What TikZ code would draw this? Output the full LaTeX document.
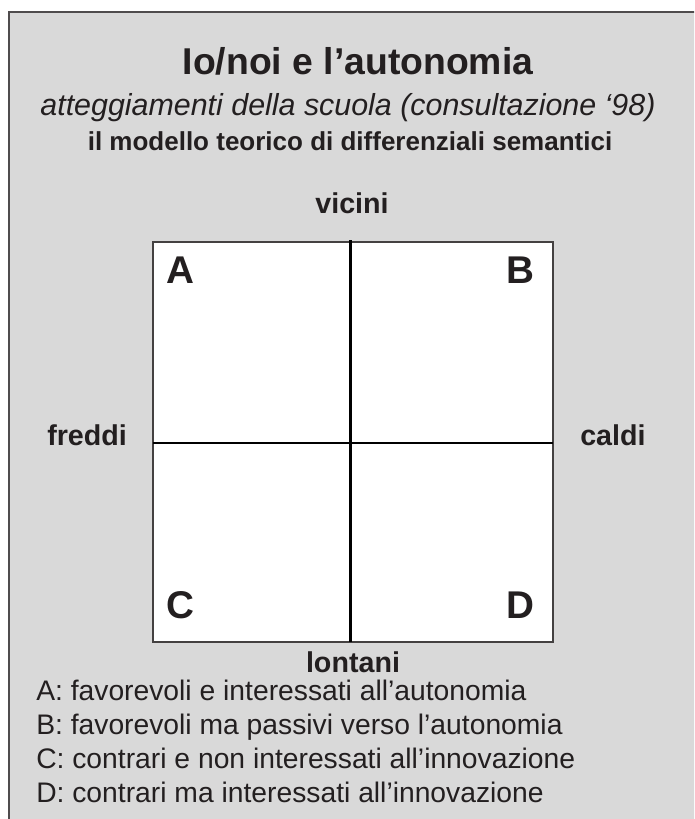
\documentclass[tikz,border=0pt]{standalone}
\usepackage{fontspec}
\setmainfont{Liberation Sans}
\definecolor{panel}{HTML}{D9D9D9}
\definecolor{ink}{HTML}{231F20}

\begin{document}
\begin{tikzpicture}[y=-0.75pt, x=0.75pt,
	every node/.style={text=ink, inner sep=0pt},
	pole/.style={font=\bfseries\fontsize{21.5}{26}\selectfont},
	corner/.style={font=\bfseries\fontsize{29}{34}\selectfont},
	legend/.style={anchor=base west, font=\fontsize{21.2}{25}\selectfont}]
	\useasboundingbox (0,0) rectangle (694,819);
	\clip (0,0) rectangle (694,819);
	\draw[fill=panel, draw=ink!80, line width=1.1pt] (9,12) rectangle (720,840);
	\node[anchor=base, font=\bfseries\fontsize{28}{33}\selectfont] (title) at (358,74) {Io/noi e l’autonomia};
	\node[anchor=base, font=\itshape\fontsize{22.8}{27}\selectfont] (sub) at (348,115) {atteggiamenti della scuola (consultazione ‘98)};
	\node[anchor=base, font=\bfseries\fontsize{19.5}{23}\selectfont] (model) at (350,150) {il modello teorico di differenziali semantici};
	\node[draw=ink!85, fill=white, line width=0.8pt, minimum size=300pt] (quad) at (353,442) {};
	\coordinate (top) at (350.5,240);
	\coordinate (bot) at (350.5,642);
	\coordinate (lft) at (153,443);
	\coordinate (rgt) at (553,443);
	\draw[black, line width=1.6pt] (top) -- (bot);
	\draw[black, line width=1.6pt] (lft) -- (rgt);
	\node[pole, anchor=base] (vicini) at (352,213) {vicini};
	\node[pole, anchor=base] (lontani) at (353,672) {lontani};
	\node[pole, anchor=base west] (freddi) at (47,445) {freddi};
	\node[pole, anchor=base west] (caldi) at (580,445) {caldi};
	\node[corner, anchor=base west] (A) at (166,283) {A};
	\node[corner, anchor=base east] (B) at (535,283) {B};
	\node[corner, anchor=base west] (C) at (166,618) {C};
	\node[corner, anchor=base east] (D) at (535,618) {D};
\foreach \t [count=\i] in {{A: favorevoli e interessati all’autonomia}, {B: favorevoli ma passivi verso l’autonomia}, {C: contrari e non interessati all’innovazione}, {D: contrari ma interessati all’innovazione}}
	\node[legend] (leg\i) at (36,{666+34*\i}) {\t};
\end{tikzpicture}
\end{document}
